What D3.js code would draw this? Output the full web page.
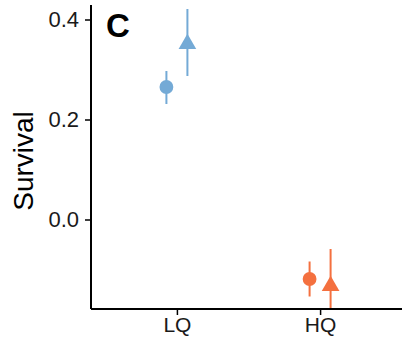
<!DOCTYPE html>
<html>
<head>
<meta charset="utf-8">
<script src="https://cdn.jsdelivr.net/npm/d3@7"></script>
<style>
  body { margin: 0; background: #fff; }
  text { font-family: Arial, "Liberation Sans", sans-serif; }
</style>
</head>
<body>
<div id="chart"></div>
<script>
// data
var categories = ["LQ", "HQ"];
var groups = ["circle", "triangle"];
var estimate = [[0.265, 0.351], [-0.119, -0.133]];
var lower = [[0.231, 0.287], [-0.154, -0.21]];
var upper = [[0.297, 0.421], [-0.084, -0.059]];
var colors = ["#74aad6", "#f4703f"];
var yTicks = [0.0, 0.2, 0.4];

var width = 402, height = 338;
var margin = {top: 5, left: 91, bottom: 29};
var plotRight = 406;

var svg = d3.select("#chart").append("svg")
    .attr("width", width)
    .attr("height", height);

var x = d3.scalePoint().domain(categories)
    .range([margin.left, plotRight]).padding(0.6);
var y = d3.scaleLinear().domain([-0.179, 0.429])
    .range([height - margin.bottom, margin.top]);
var dodge = 10.5;

svg.append("clipPath").attr("id", "clip")
  .append("rect")
    .attr("x", margin.left).attr("y", margin.top)
    .attr("width", plotRight - margin.left)
    .attr("height", height - margin.bottom - margin.top);

var points = [];
categories.forEach(function(c, i) {
  groups.forEach(function(g, j) {
    points.push({cat: c, shape: g, est: estimate[i][j], lo: lower[i][j], hi: upper[i][j], col: colors[i], k: j});
  });
});

var plot = svg.append("g").attr("clip-path", "url(#clip)");

plot.selectAll("line.err")
  .data(points)
  .enter().append("line")
    .attr("class", "err")
    .attr("x1", function(d) { return x(d.cat) + (d.k == 0 ? -dodge : dodge); })
    .attr("x2", function(d) { return x(d.cat) + (d.k == 0 ? -dodge : dodge); })
    .attr("y1", function(d) { return y(d.lo); })
    .attr("y2", function(d) { return y(d.hi); })
    .attr("stroke", function(d) { return d.col; })
    .attr("stroke-width", 2);

plot.selectAll("path.pt")
  .data(points)
  .enter().append("path")
    .attr("class", "pt")
    .attr("transform", function(d) {
      return "translate(" + (x(d.cat) + (d.k == 0 ? -dodge : dodge)) + "," + y(d.est) + ")";
    })
    .attr("d", function(d) {
      return d.shape == "circle"
        ? d3.symbol().type(d3.symbolCircle).size(150)()
        : d3.symbol().type(d3.symbolTriangle).size(135)();
    })
    .attr("fill", function(d) { return d.col; });

// axes
var yAxis = svg.append("g")
    .attr("transform", "translate(" + margin.left + ",0)")
    .call(d3.axisLeft(y).tickValues(yTicks).tickFormat(d3.format(".1f")).tickSize(6).tickPadding(6));
yAxis.select(".domain").attr("d", "M0," + margin.top + "V" + (height - margin.bottom));

var xAxis = svg.append("g")
    .attr("transform", "translate(0," + (height - margin.bottom) + ")")
    .call(d3.axisBottom(x).tickSize(6).tickPadding(2));
xAxis.select(".domain").attr("d", "M" + margin.left + ",0H" + plotRight);

svg.selectAll(".domain").attr("stroke", "#000").attr("stroke-width", 2);
svg.selectAll(".tick line").attr("stroke", "#000").attr("stroke-width", 1.5);
svg.selectAll(".tick text").attr("fill", "#1a1a1a").style("font-size", "22px");
xAxis.selectAll(".tick text").style("font-size", "21px");

svg.append("text")
    .attr("transform", "translate(33,161) rotate(-90)")
    .attr("text-anchor", "middle")
    .style("font-size", "28px")
    .attr("fill", "#000")
    .text("Survival");

svg.append("text")
    .attr("x", 106).attr("y", 36.5)
    .style("font-size", "33px")
    .style("font-weight", "bold")
    .attr("fill", "#000")
    .text("C");
</script>
</body>
</html>
